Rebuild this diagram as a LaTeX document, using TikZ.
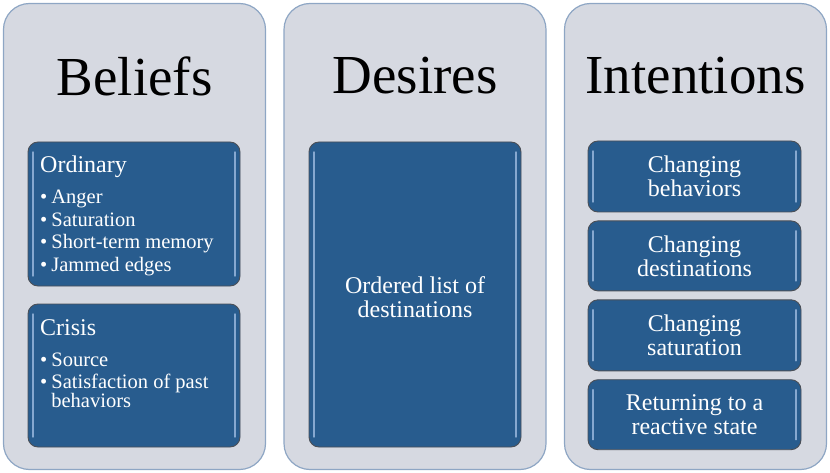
\documentclass[tikz,border=0pt]{standalone}
\usepackage{fontspec}
\setmainfont{Liberation Serif}
\usepackage{xcolor}
\usetikzlibrary{positioning,calc}
\definecolor{bdiPanel}{HTML}{D6D9E1}
\definecolor{bdiPanelLine}{HTML}{8EA6C4}
\definecolor{bdiBlue}{HTML}{285C8E}
\definecolor{bdiEdge}{HTML}{4A4F57}
\definecolor{bdiGlow}{HTML}{86A8D0}

\begin{document}
\begin{tikzpicture}[
        x=1pt, y=-1pt,
        panel/.style={draw=bdiPanelLine, line width=1.2pt, rounded corners=26pt, fill=bdiPanel, minimum width=262pt, minimum height=466pt, inner sep=0pt},
        title/.style={font=\fontsize{55}{60}\selectfont, text=black},
        card/.style={draw=bdiEdge, line width=0.9pt, rounded corners=10pt, fill=bdiBlue, inner sep=0pt,
            path picture={\draw[bdiGlow, line width=1.4pt, line cap=round]
                ($(path picture bounding box.north west)+(5pt,-10pt)$) -- ($(path picture bounding box.south west)+(5pt,10pt)$)
                ($(path picture bounding box.north east)+(-5pt,-10pt)$) -- ($(path picture bounding box.south east)+(-5pt,10pt)$);}},
        cardtext/.style={text=white, align=center, font=\fontsize{24}{24}\selectfont},
        headtext/.style={text=white, anchor=base west, inner sep=0pt, font=\fontsize{24}{26}\selectfont},
        listtext/.style={text=white, anchor=base west, inner sep=0pt, font=\fontsize{20.5}{22.5}\selectfont}
    ]
        \useasboundingbox (0,0) rectangle (830,473);

        % the three columns
        \node[panel] (beliefs) at (134.5,236.5) {};
        \node[panel] (desires) at (415,236.5) {};
        \node[panel] (intentions) at (695.5,236.5) {};

        \node[title] (beliefsTitle) at (134.5,76) {Beliefs};
        \node[title] (desiresTitle) at (415,76) {Desires};
        \node[title] (intentionsTitle) at (695.5,76) {Intentions};

        % beliefs
        \node[card, minimum width=212pt, minimum height=144pt] (ordinary) at (134,214) {};
        \node[headtext] (ordinaryHead) at (40,173) {Ordinary};
        \node[listtext] (ordinaryList) at (40,204)
            {\begin{tabular}[t]{@{}l@{\hspace{4pt}}l@{}}
                \textbullet & Anger\\
                \textbullet & Saturation\\
                \textbullet & Short-term memory\\
                \textbullet & Jammed edges
            \end{tabular}};

        \node[card, minimum width=212pt, minimum height=143pt] (crisis) at (134,375.5) {};
        \node[headtext] (crisisHead) at (40,335) {Crisis};
        \node[listtext] (crisisList) at (40,366)
            {\begin{tabular}[t]{@{}l@{\hspace{4pt}}l@{}}
                \textbullet & Source\\
                \textbullet & Satisfaction of past\\[-4pt]
                            & behaviors
            \end{tabular}};

        % desires
        \node[card, minimum width=212pt, minimum height=305pt] (destinations) at (415,294.5) {};
        \node[cardtext] (destinationsText) at (415,297) {Ordered list of\\destinations};

        % intentions
        \node[card, minimum width=213pt, minimum height=71pt] (behaviors) at (694.5,176.5) {};
        \node[cardtext] (behaviorsText) at (behaviors) {Changing\\behaviors};
        \node[card, minimum width=213pt, minimum height=70pt, below=8pt of behaviors] (goals) {};
        \node[cardtext] (goalsText) at (goals) {Changing\\destinations};
        \node[card, minimum width=213pt, minimum height=71pt, below=8pt of goals] (saturation) {};
        \node[cardtext] (saturationText) at (saturation) {Changing\\saturation};
        \node[card, minimum width=213pt, minimum height=70pt, below=8pt of saturation] (reactive) {};
        \node[cardtext] (reactiveText) at (reactive) {Returning to a\\reactive state};
    \end{tikzpicture}
\end{document}
